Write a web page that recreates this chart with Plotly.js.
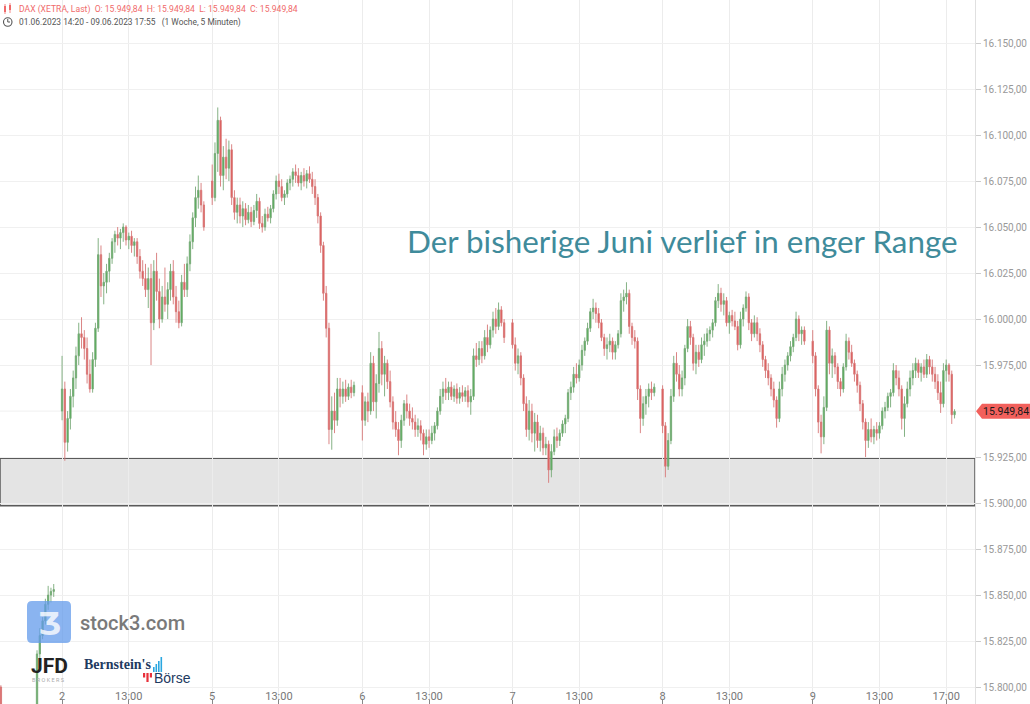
<!DOCTYPE html>
<html><head><meta charset="utf-8">
<script src="https://cdn.plot.ly/plotly-3.0.1.min.js"></script>
<style>html,body{margin:0;padding:0;background:#fff;overflow:hidden}#chart{width:1030px;height:704px}</style>
</head><body><div id="chart"></div>
<script>
// ---- DATA (10-minute candles) ----
const slotsPerDay = 54;      // 09:00 ... 18:00 in 10-minute slots
const slotMinutes = 10;
const dayNames   = ['1', '2', '5', '6', '7', '8', '9'];
const dayIndex   = [-1, 0, 1, 2, 3, 4, 5];
const firstTime  = ['14:20', '09:00', '09:00', '09:00', '09:00', '09:00', '09:00'];

// [open, high, low, close]
const jun01 = [
[15800,15801,15784,15788],[15788,15790,15776,15780],[15780,15786,15772,15778],[15778,15784,15770,15774],
[15774,15782,15768,15776],[15776,15782,15770,15772],[15772,15778,15764,15770],[15770,15776,15762,15768],
[15768,15774,15762,15772],[15772,15780,15768,15776],[15776,15784,15772,15780],[15780,15786,15774,15782],
[15782,15789,15778,15786],[15786,15820,15784,15818],[15818,15832,15814,15828],[15828,15838,15826,15836],
[15836,15848,15834,15845],[15845,15855,15842,15850],[15850,15854,15846,15852],[15852,15856,15849,15853]];
const jun02 = [
[15950,15980,15945,15962],[15962,15966,15923,15933],[15933,15950,15928,15946],[15946,15962,15940,15958],
[15958,15972,15952,15968],[15968,15985,15962,15980],[15980,15998,15975,15992],[15992,16001,15984,15990],
[15990,15994,15978,15984],[15984,15990,15965,15970],[15970,15978,15960,15962],[15962,15982,15960,15978],
[15978,15998,15974,15995],[15995,16044,15993,16035],[16035,16040,16012,16018],[16018,16025,16008,16020],
[16020,16030,16014,16026],[16026,16036,16020,16033],[16033,16044,16030,16042],[16042,16048,16036,16046],
[16046,16050,16040,16044],[16044,16049,16038,16047],[16047,16052,16042,16050],[16050,16051,16040,16043],
[16043,16047,16038,16045],[16045,16048,16036,16040],[16040,16044,16034,16042],[16042,16044,16030,16034],
[16034,16038,16022,16026],[16026,16032,16018,16022],[16022,16030,16012,16016],[16016,16028,16006,16022],
[16022,16030,15975,15998],[15998,16032,15994,16026],[16026,16036,16010,16015],[16015,16022,15995,16000],
[16000,16018,15998,16012],[16012,16028,16004,16008],[16008,16020,16000,16016],[16016,16030,16010,16026],
[16026,16032,16008,16012],[16012,16018,15998,16004],[16004,16010,15995,15998],[15998,16024,15996,16020],
[16020,16030,16012,16016],[16016,16034,16012,16030],[16030,16046,16026,16042],[16042,16058,16038,16055],
[16055,16072,16050,16066],[16066,16078,16060,16070],[16070,16074,16058,16062],[16062,16064,16048,16050]];
const jun05 = [
[16075,16084,16062,16066],[16066,16096,16064,16090],[16090,16115,16080,16108],[16108,16110,16072,16078],
[16078,16094,16070,16088],[16088,16098,16076,16082],[16082,16097,16075,16092],[16092,16095,16062,16066],
[16066,16070,16054,16058],[16058,16066,16052,16062],[16062,16066,16052,16056],[16056,16064,16050,16060],
[16060,16063,16051,16054],[16054,16062,16052,16058],[16058,16061,16050,16053],[16053,16062,16051,16059],
[16059,16068,16055,16064],[16064,16066,16049,16052],[16052,16056,16047,16050],[16050,16060,16048,16057],
[16057,16061,16053,16055],[16055,16062,16052,16060],[16060,16070,16058,16068],[16068,16078,16065,16075],
[16075,16079,16068,16072],[16072,16076,16064,16066],[16066,16070,16062,16068],[16068,16076,16066,16074],
[16074,16078,16070,16076],[16076,16082,16072,16080],[16080,16084,16074,16078],[16078,16082,16072,16074],
[16074,16080,16070,16078],[16078,16082,16072,16075],[16075,16081,16071,16079],[16079,16083,16074,16076],
[16076,16080,16068,16072],[16072,16076,16062,16066],[16066,16068,16052,16056],[16056,16058,16036,16040],
[16040,16042,16010,16014],[16014,16018,15990,15995],[15995,15998,15932,15940],[15940,15958,15929,15950],
[15950,15960,15938,15945],[15945,15968,15942,15962],[15962,15968,15952,15958],[15958,15966,15954,15962],
[15962,15967,15955,15958],[15958,15965,15956,15963],[15963,15967,15957,15960],[15960,15966,15958,15964]];
const jun06 = [
[15960,15964,15934,15945],[15945,15958,15942,15955],[15955,15960,15944,15950],[15950,15982,15948,15976],
[15976,15980,15950,15955],[15955,15970,15946,15965],[15965,15993,15960,15984],[15984,15988,15964,15970],
[15970,15980,15958,15976],[15976,15978,15962,15966],[15966,15972,15952,15955],[15955,15958,15940,15944],
[15944,15950,15936,15940],[15940,15944,15926,15934],[15934,15948,15930,15945],[15945,15956,15942,15954],
[15954,15959,15946,15950],[15950,15954,15942,15946],[15946,15952,15940,15944],[15944,15948,15936,15940],
[15940,15946,15936,15942],[15942,15945,15934,15938],[15938,15940,15926,15932],[15932,15940,15929,15936],
[15936,15940,15930,15934],[15934,15942,15932,15938],[15938,15944,15934,15942],[15942,15952,15940,15950],
[15950,15962,15948,15958],[15958,15966,15954,15962],[15962,15968,15956,15960],[15960,15966,15956,15963],
[15963,15966,15956,15958],[15958,15964,15955,15962],[15962,15965,15954,15957],[15957,15963,15954,15960],
[15960,15964,15955,15958],[15958,15963,15955,15961],[15961,15964,15952,15955],[15955,15962,15948,15958],
[15958,15984,15956,15980],[15980,15987,15974,15978],[15978,15988,15975,15984],[15984,15988,15976,15980],
[15980,15994,15978,15990],[15990,15997,15982,15986],[15986,15996,15984,15994],[15994,16004,15990,16000],
[16000,16006,15992,15996],[15996,16009,15994,16005],[16005,16007,15996,15998],[15998,16000,15987,15990]];
const jun07 = [
[15998,16000,15984,15986],[15986,15990,15972,15976],[15976,15984,15970,15980],[15980,15982,15964,15968],
[15968,15970,15950,15954],[15954,15958,15936,15940],[15940,15956,15934,15950],[15950,15954,15933,15938],
[15938,15949,15928,15944],[15944,15948,15930,15934],[15934,15942,15928,15938],[15938,15941,15926,15930],
[15930,15936,15926,15932],[15932,15934,15911,15918],[15918,15932,15914,15928],[15928,15940,15926,15936],
[15936,15941,15930,15934],[15934,15940,15931,15938],[15938,15945,15936,15943],[15943,15948,15938,15946],
[15946,15962,15944,15960],[15960,15966,15956,15963],[15963,15974,15960,15970],[15970,15976,15965,15968],
[15968,15978,15966,15975],[15975,15986,15972,15983],[15983,15990,15980,15988],[15988,15998,15986,15995],
[15995,16006,15993,16004],[16004,16011,16000,16006],[16006,16009,15998,16003],[16003,16006,15995,15998],
[15998,16000,15988,15990],[15990,15992,15980,15984],[15984,15990,15978,15986],[15986,15992,15982,15988],
[15988,15990,15978,15982],[15982,15988,15978,15986],[15986,15994,15984,15992],[15992,16014,15990,16010],
[16010,16016,16004,16012],[16012,16020,16008,16014],[16014,16016,15992,15996],[15996,15998,15986,15990],
[15990,15994,15984,15988],[15988,15990,15956,15962],[15962,15964,15938,15946],[15946,15958,15942,15954],
[15954,15962,15948,15958],[15958,15965,15952,15962],[15962,15966,15956,15960],[15960,15965,15958,15963]];
const jun08 = [
[15962,15964,15938,15942],[15942,15944,15914,15920],[15920,15938,15918,15934],[15934,15962,15932,15958],
[15958,15980,15955,15976],[15976,15982,15966,15970],[15970,15975,15958,15962],[15962,15972,15958,15968],
[15968,15986,15964,15984],[15984,16000,15982,15996],[15996,15999,15986,15990],[15990,15992,15972,15976],
[15976,15986,15970,15982],[15982,15986,15974,15978],[15978,15990,15976,15986],[15986,15992,15980,15988],
[15988,15995,15985,15992],[15992,15996,15988,15994],[15994,16000,15990,15998],[15998,16012,15996,16010],
[16010,16019,16006,16014],[16014,16017,16004,16008],[16008,16014,16002,16010],[16010,16012,15996,15998],
[15998,16004,15992,16002],[16002,16005,15996,15999],[15999,16004,15994,15996],[15996,15999,15983,15986],
[15986,16004,15984,16000],[16000,16008,15996,16006],[16006,16015,16004,16012],[16012,16014,15994,15998],
[15998,16000,15988,15992],[15992,16002,15990,15998],[15998,16001,15988,15992],[15992,15995,15982,15986],
[15986,15988,15974,15978],[15978,15980,15968,15972],[15972,15976,15964,15968],[15968,15970,15958,15962],
[15962,15966,15952,15956],[15956,15958,15941,15946],[15946,15966,15944,15962],[15962,15974,15958,15970],
[15970,15978,15966,15975],[15975,15982,15972,15980],[15980,15988,15977,15985],[15985,15992,15982,15990],
[15990,16004,15988,16000],[16000,16002,15988,15992],[15992,15996,15986,15994],[15994,15996,15986,15988]];
const jun09 = [
[15988,15994,15976,15980],[15980,15982,15958,15962],[15962,15964,15938,15944],[15944,15948,15927,15936],
[15936,15958,15932,15952],[15952,15999,15950,15994],[15994,15996,15970,15976],[15976,15984,15968,15980],
[15980,15982,15970,15974],[15974,15976,15962,15966],[15966,15968,15958,15962],[15962,15976,15960,15974],
[15974,15992,15972,15988],[15988,15990,15978,15982],[15982,15986,15974,15976],[15976,15978,15966,15970],
[15970,15972,15960,15964],[15964,15966,15950,15954],[15954,15956,15940,15944],[15944,15946,15925,15934],
[15934,15944,15930,15940],[15940,15946,15933,15936],[15936,15942,15932,15940],[15940,15944,15934,15938],
[15938,15944,15935,15942],[15942,15952,15940,15950],[15950,15955,15946,15952],[15952,15960,15950,15958],
[15958,15962,15952,15960],[15960,15976,15958,15972],[15972,15975,15964,15968],[15968,15972,15958,15962],
[15962,15964,15940,15946],[15946,15958,15936,15954],[15954,15966,15952,15962],[15962,15972,15958,15968],
[15968,15976,15964,15972],[15972,15979,15968,15976],[15976,15978,15968,15971],[15971,15976,15966,15974],
[15974,15978,15968,15970],[15970,15981,15968,15978],[15978,15980,15970,15974],[15974,15978,15966,15970],
[15970,15974,15962,15966],[15966,15970,15956,15960],[15960,15966,15949,15954],[15954,15976,15952,15972],
[15972,15978,15966,15975],[15975,15976,15966,15970],[15970,15972,15943,15948],[15948,15951,15946,15949.84]];
const dayCandles = [jun01, jun02, jun05, jun06, jun07, jun08, jun09];

// box of the range
const rangeLow = 15898.6;
const rangeHigh = 15924.3;

// axis ticks
const yTickStart = 15800, yTickEnd = 16150, yTickStep = 25;
const tickDay  = [0, 0, 1, 1, 2, 2, 3, 3, 4, 4, 5, 5, 5];
const tickTime = ['09:00','13:00','09:00','13:00','09:00','13:00','09:00','13:00','09:00','13:00','09:00','13:00','17:00'];
const tickText = ['2','13:00','5','13:00','6','13:00','7','13:00','8','13:00','9','13:00','17:00'];

const headerLine1 = 'DAX (XETRA, Last)\u00a0\u00a0O: 15.949,84\u00a0\u00a0H: 15.949,84\u00a0\u00a0L: 15.949,84\u00a0\u00a0C: 15.949,84';
const headerLine2 = '01.06.2023 14:20 - 09.06.2023 17:55\u00a0\u00a0\u00a0(1 Woche, 5 Minuten)';
const headline = 'Der bisherige Juni verlief in enger Range';

// ---- BUILD ----
function slotOf(t){ const p=t.split(':'); return ((+p[0]-9)*60 + (+p[1]))/slotMinutes; }
const X=[],O=[],Hh=[],L=[],C=[];
dayCandles.forEach((arr,d)=>{
  const s0 = slotOf(firstTime[d]);
  arr.forEach((c,i)=>{
    X.push(dayIndex[d]*slotsPerDay + s0 + i);
    O.push(c[0]); Hh.push(c[1]); L.push(c[2]); C.push(c[3]);
  });
});
const tickVals = tickDay.map((d,i)=>d*slotsPerDay + slotOf(tickTime[i]));
const lastClose = C[C.length-1];
function fmtDE(v){ const s=v.toFixed(2).split('.'); return s[0].replace(/\B(?=(\d{3})+(?!\d))/g,'.')+','+s[1]; }

const W=1030, H=704, PW=975;
const yRange=[15790.8,16173.4];
const px2x = p => p/PW;
const px2y = p => 1 - p/H;
const pxPerUnit = H/(yRange[1]-yRange[0]);

// y ticks: the label under the last-price marker is covered, as in the original
const yAll = [];
for(let v=yTickStart; v<=yTickEnd; v+=yTickStep) yAll.push(v);
const yTickVals = yAll.filter(v => Math.abs(v-lastClose)*pxPerUnit > 9);
const yHidden = yAll.filter(v => Math.abs(v-lastClose)*pxPerUnit <= 9);

const trace = {
  type:'candlestick', x:X, open:O, high:Hh, low:L, close:C,
  increasing:{line:{color:'rgba(120,170,120,0.9)',width:1}, fillcolor:'#4caf50'},
  decreasing:{line:{color:'rgba(215,120,120,0.9)',width:1}, fillcolor:'#e0524f'},
  whiskerwidth:0, hoverinfo:'skip', showlegend:false
};

const shapes = [];
// grid line for the covered tick
yHidden.forEach(v=>shapes.push({type:'line', xref:'paper', yref:'y', x0:0, x1:1, y0:v, y1:v, line:{color:'#f0f0f0', width:1}, layer:'below'}));
shapes.push({type:'rect', xref:'paper', yref:'y', x0:0, x1:1, y0:rangeLow, y1:rangeHigh,
   fillcolor:'#e4e4e4', line:{color:'#5a5a5a', width:1.5}, layer:'below'});
// price label arrow
const hu = 7.5/pxPerUnit;
shapes.push({type:'path', xref:'paper', yref:'y', layer:'above', fillcolor:'#f2605c', line:{width:0},
  path:`M ${px2x(976)},${lastClose} L ${px2x(982)},${lastClose+hu} L ${px2x(1030)},${lastClose+hu} L ${px2x(1030)},${lastClose-hu} L ${px2x(982)},${lastClose-hu} Z`});
// stock3 rounded square
(function(){
  const x0=27,x1=71,y0=601,y1=643,r=5;
  const P=(x,y)=>`${px2x(x)},${px2y(y)}`;
  shapes.push({type:'path', xref:'paper', yref:'paper', layer:'above', opacity:0.75, fillcolor:'#639beb', line:{width:0},
    path:`M ${P(x0+r,y0)} L ${P(x1-r,y0)} Q ${P(x1,y0)} ${P(x1,y0+r)} L ${P(x1,y1-r)} Q ${P(x1,y1)} ${P(x1-r,y1)} L ${P(x0+r,y1)} Q ${P(x0,y1)} ${P(x0,y1-r)} L ${P(x0,y0+r)} Q ${P(x0,y0)} ${P(x0+r,y0)} Z`});
})();
function prect(x0,y0,x1,y1,color,layer){ return {type:'rect', xref:'paper', yref:'paper', x0:px2x(x0), x1:px2x(x1), y0:px2y(y0), y1:px2y(y1), fillcolor:color, line:{width:0}, layer:layer||'above'}; }
// Bernstein's bars icon
[[153,667],[155.5,664],[158,661],[160.5,657]].forEach(b=>shapes.push(prect(b[0],b[1],b[0]+1.6,672,'#2aa7e0')));
// red Börse icon
shapes.push(prect(143,673,145.2,677.5,'#e8303a'));
shapes.push(prect(146.4,673,148.6,682,'#e8303a'));
shapes.push(prect(149.8,673,152,677.5,'#e8303a'));
// header icons
shapes.push(prect(4,6,6,12,'#f06a6a'));
shapes.push(prect(4.6,4,5.4,14,'#f06a6a'));
shapes.push(prect(9,5,11,10,'#f06a6a'));
shapes.push(prect(9.6,3,10.4,13,'#f06a6a'));
shapes.push({type:'circle', xref:'paper', yref:'paper', x0:px2x(3.5), x1:px2x(12), y0:px2y(26.3), y1:px2y(17.8), line:{color:'#555', width:1.1}, layer:'above'});
shapes.push({type:'line', xref:'paper', yref:'paper', x0:px2x(7.75), x1:px2x(7.75), y0:px2y(22), y1:px2y(19), line:{color:'#555', width:1}, layer:'above'});
shapes.push({type:'line', xref:'paper', yref:'paper', x0:px2x(7.75), x1:px2x(10), y0:px2y(22), y1:px2y(22), line:{color:'#555', width:1}, layer:'above'});

function ann(text, x, y, o){ return Object.assign({text, xref:'paper', yref:'paper', x:px2x(x), y:px2y(y), xanchor:'left', yanchor:'middle', showarrow:false}, o||{}); }
const annotations = [
  ann(headerLine1, 17, 9, {font:{family:'Roboto, Arial, sans-serif', size:8.6, color:'#f06a6a'}}),
  ann(headerLine2, 17, 22, {font:{family:'Roboto, Arial, sans-serif', size:8.4, color:'#555'}}),
  ann(headline, 682.5, 241, {xanchor:'center', font:{family:'Lato, sans-serif', size:31.4, color:'#3f8b9b'}}),
  {text:fmtDE(lastClose), xref:'paper', yref:'y', x:px2x(1006), y:lastClose, xanchor:'center', yanchor:'middle', showarrow:false,
   font:{family:'Roboto, Arial, sans-serif', size:10.5, color:'#1a1a1a'}},
  ann('\u01B7', 49, 623, {xanchor:'center', font:{family:'DejaVu Sans, sans-serif', size:30, color:'rgba(255,255,255,0.8)', weight:700}}),
  ann('stock3.com', 78, 623, {font:{family:'Roboto, sans-serif', size:20, color:'#7a7a7a', weight:500}}),
  ann('JFD', 29, 666, {font:{family:'Roboto, sans-serif', size:21, color:'#222', weight:700}}),
  ann('B R O K E R S', 30, 679.5, {font:{family:'Roboto, sans-serif', size:5.5, color:'#aaa'}}),
  ann("Bernstein's", 82, 664.5, {font:{family:'Liberation Serif, serif', size:14, color:'#1e3a5f', weight:700}}),
  ann('Börse', 152, 678, {font:{family:'Liberation Sans, Arial, sans-serif', size:14, color:'#1e3a5f'}})
];

const layout = {
  width:W, height:H, margin:{l:0, r:W-PW, t:0, b:0, pad:0},
  paper_bgcolor:'#fff', plot_bgcolor:'#fff', separators:',.', showlegend:false,
  font:{family:'Roboto, Arial, sans-serif', size:11, color:'#888'},
  xaxis:{type:'linear', range:[-22.32, 328.36], tickmode:'array', tickvals:tickVals, ticktext:tickText,
    anchor:'free', position:0,
    showgrid:true, gridcolor:'#ececec', gridwidth:1, zeroline:false, showline:false,
    ticks:'inside', ticklen:4, tickcolor:'#888', ticklabelposition:'inside', ticklabelstandoff:-3,
    tickfont:{size:11, color:'#777'}, rangeslider:{visible:false}, fixedrange:true},
  yaxis:{side:'right', range:yRange, tickmode:'array', tickvals:yTickVals, tickformat:',.2f',
    ticks:'outside', ticklen:5, tickcolor:'#ccc', showline:true, linecolor:'#e0e0e0', linewidth:1,
    showgrid:true, gridcolor:'#f0f0f0', zeroline:false, tickfont:{size:10, color:'#999'}, fixedrange:true},
  shapes, annotations
};
Plotly.newPlot('chart', [trace], layout, {staticPlot:true, displayModeBar:false});
</script></body></html>
